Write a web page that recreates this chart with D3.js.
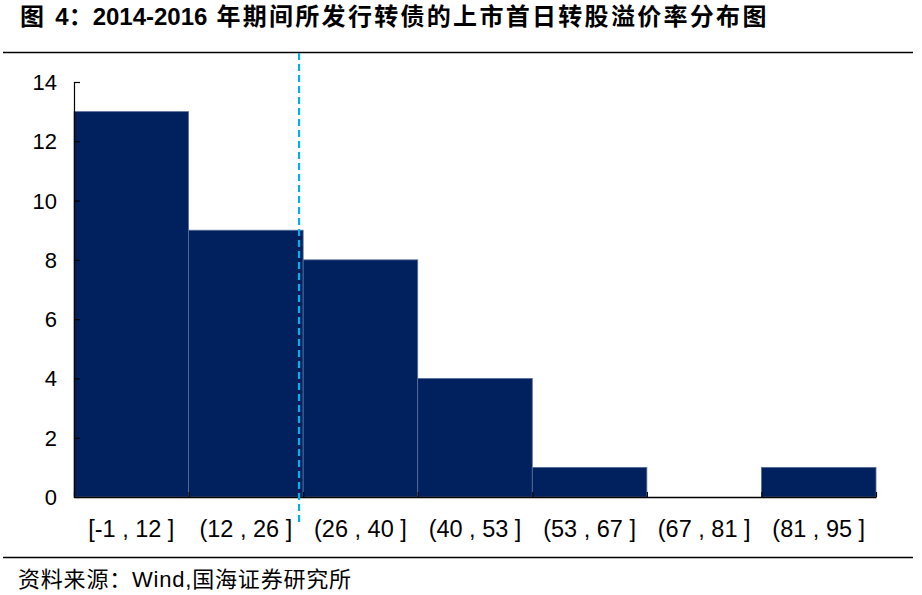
<!DOCTYPE html>
<html><head><meta charset="utf-8">
<script src="https://cdn.jsdelivr.net/npm/d3@7/dist/d3.min.js"></script>
<style>body{margin:0;background:#fff}svg{display:block}</style>
</head><body>
<svg id="c" width="922" height="595"></svg>
<script>
const categories = ["[-1 , 12 ]", "(12 , 26 ]", "(26 , 40 ]", "(40 , 53 ]", "(53 , 67 ]", "(67 , 81 ]", "(81 , 95 ]"];
const binLow = [-1, 12, 26, 40, 53, 67, 81];
const binHigh = [12, 26, 40, 53, 67, 81, 95];
const counts = [13, 9, 8, 4, 1, 0, 1];
const yTicks = [0, 2, 4, 6, 8, 10, 12, 14];
const meanPremium = 25.5;
const titleParts = [["图 ", false], ["4：", true], ["2014-2016", true], [" 年期间所发行转债的上市首日转股溢价率分布图", false]];
const sourceText = "资料来源：Wind,国海证券研究所";

const svg = d3.select("#c");
const font = "'Liberation Sans', Arial, 'Noto Sans CJK SC', sans-serif";
const L = 74, R = 876, T = 82, B = 497;

const title = svg.append("text").attr("x", 20).attr("y", 25).attr("font-family", font)
  .attr("font-size", 24).attr("fill", "#000");
titleParts.forEach(([t, b]) => {
  const s = title.append("tspan").text(t).attr("font-weight", "bold");
  if (!b) s.attr("letter-spacing", 2.3);
});
svg.append("line").attr("x1", 3).attr("x2", 913).attr("y1", 52.5).attr("y2", 52.5)
  .attr("stroke", "#000").attr("stroke-width", 1.5);
svg.append("line").attr("x1", 3).attr("x2", 913).attr("y1", 557.5).attr("y2", 557.5)
  .attr("stroke", "#000").attr("stroke-width", 1.5);
svg.append("text").attr("x", 18).attr("y", 587).attr("font-family", font)
  .attr("font-size", 22).attr("letter-spacing", 0.8).attr("fill", "#000").text(sourceText);

const x = d3.scaleBand().domain(categories).range([L, R]).padding(0);
const y = d3.scaleLinear().domain([0, 14]).range([B, T]);

svg.append("g").selectAll("rect").data(counts).join("rect")
  .attr("x", (d, i) => x(categories[i]))
  .attr("y", d => y(d))
  .attr("width", x.bandwidth())
  .attr("height", d => B - y(d))
  .attr("fill", "#00205E")
  .attr("stroke", "#5a6f98").attr("stroke-width", 0.8);

// y axis
const yAxis = d3.axisRight(y).tickValues(yTicks).tickSize(6).tickFormat("");
const gy = svg.append("g").attr("transform", `translate(${L},0)`).call(yAxis);
gy.select(".domain").attr("stroke", "#000").attr("stroke-width", 1.2);
gy.selectAll(".tick line").attr("stroke", "#000").attr("stroke-width", 1.2);
svg.append("g").selectAll("text").data(yTicks).join("text")
  .attr("x", 57).attr("y", d => y(d) + 8).attr("text-anchor", "end")
  .attr("font-family", font).attr("font-size", 22).attr("fill", "#000").text(d => d);

// x axis
const xb = d3.scaleLinear().domain([0, categories.length]).range([L, R]);
const gx = svg.append("g").attr("transform", `translate(0,${B})`)
  .call(d3.axisTop(xb).tickValues(d3.range(categories.length + 1)).tickSize(5).tickSizeOuter(0).tickFormat(""));
gx.select(".domain").attr("stroke", "#000").attr("stroke-width", 1.5);
gx.selectAll(".tick line").attr("stroke", "#000").attr("stroke-width", 1.2);
svg.append("g").selectAll("text").data(categories).join("text")
  .attr("x", d => x(d) + x.bandwidth() / 2).attr("y", 537).attr("text-anchor", "middle")
  .attr("font-family", font).attr("font-size", 23.5).attr("fill", "#000").text(d => d);

// mean dashed line
const bi = binLow.findIndex((lo, i) => meanPremium > lo && meanPremium <= binHigh[i]);
const mx = xb(bi + (meanPremium - binLow[bi]) / (binHigh[bi] - binLow[bi]));
svg.append("line").attr("x1", mx).attr("x2", mx).attr("y1", 53).attr("y2", 526)
  .attr("stroke", "#00B0F0").attr("stroke-width", 2.2).attr("stroke-dasharray", "7,4");
</script>
</body></html>
